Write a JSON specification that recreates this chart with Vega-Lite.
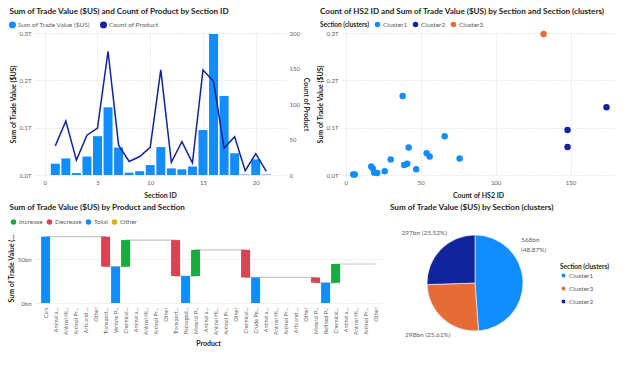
{
  "$schema": "https://vega.github.io/schema/vega-lite/v6.json",
  "background": "white",
  "padding": {"left": 7, "top": 7, "right": 2, "bottom": 2},
  "datasets": {
    "sections": [
      {"section": 1, "value": 0.024, "count": 41, "cluster": "Cluster1"},
      {"section": 2, "value": 0.035, "count": 76, "cluster": "Cluster1"},
      {"section": 3, "value": 0.004, "count": 21, "cluster": "Cluster1"},
      {"section": 4, "value": 0.039, "count": 56, "cluster": "Cluster1"},
      {"section": 5, "value": 0.082, "count": 66, "cluster": "Cluster1"},
      {"section": 6, "value": 0.143, "count": 174, "cluster": "Cluster2"},
      {"section": 7, "value": 0.058, "count": 42, "cluster": "Cluster1"},
      {"section": 8, "value": 0.005, "count": 19, "cluster": "Cluster1"},
      {"section": 9, "value": 0.008, "count": 26, "cluster": "Cluster1"},
      {"section": 10, "value": 0.021, "count": 39, "cluster": "Cluster1"},
      {"section": 11, "value": 0.059, "count": 148, "cluster": "Cluster2"},
      {"section": 12, "value": 0.014, "count": 18, "cluster": "Cluster1"},
      {"section": 13, "value": 0.012, "count": 47, "cluster": "Cluster1"},
      {"section": 14, "value": 0.018, "count": 17, "cluster": "Cluster1"},
      {"section": 15, "value": 0.095, "count": 148, "cluster": "Cluster2"},
      {"section": 16, "value": 0.298, "count": 132, "cluster": "Cluster3"},
      {"section": 17, "value": 0.167, "count": 38, "cluster": "Cluster1"},
      {"section": 18, "value": 0.046, "count": 54, "cluster": "Cluster1"},
      {"section": 19, "value": 0.001, "count": 6, "cluster": "Cluster1"},
      {"section": 20, "value": 0.033, "count": 30, "cluster": "Cluster1"},
      {"section": 21, "value": 0.001, "count": 5, "cluster": "Cluster1"}
    ],
    "waterfall": [
      {"key": "01 Cars", "start": 0, "end": 75.8, "type": "Total"},
      {"key": "02 Animal a...", "start": 75.8, "end": 75.8, "type": "Increase"},
      {"key": "03 Animal Hi...", "start": 75.8, "end": 75.8, "type": "Increase"},
      {"key": "04 Animal Pr...", "start": 75.8, "end": 75.8, "type": "Increase"},
      {"key": "05 Arts and ...", "start": 75.8, "end": 75.8, "type": "Increase"},
      {"key": "06 Other", "start": 75.8, "end": 75.8, "type": "Increase"},
      {"key": "07 Transport...", "start": 75.8, "end": 41.5, "type": "Decrease"},
      {"key": "08 Vehicle P...", "start": 0, "end": 41.5, "type": "Total"},
      {"key": "09 Chemical...", "start": 41.5, "end": 71.9, "type": "Increase"},
      {"key": "10 Animal a...", "start": 71.9, "end": 71.9, "type": "Increase"},
      {"key": "11 Animal Hi...", "start": 71.9, "end": 71.9, "type": "Increase"},
      {"key": "12 Animal Pr...", "start": 71.9, "end": 71.9, "type": "Increase"},
      {"key": "13 Other", "start": 71.9, "end": 71.9, "type": "Increase"},
      {"key": "14 Transport...", "start": 71.9, "end": 30.8, "type": "Decrease"},
      {"key": "15 Packaged...", "start": 0, "end": 30.8, "type": "Total"},
      {"key": "16 Mineral P...", "start": 30.8, "end": 60.8, "type": "Increase"},
      {"key": "17 Animal a...", "start": 60.8, "end": 60.8, "type": "Increase"},
      {"key": "18 Animal Hi...", "start": 60.8, "end": 60.8, "type": "Increase"},
      {"key": "19 Animal Pr...", "start": 60.8, "end": 60.8, "type": "Increase"},
      {"key": "20 Other", "start": 60.8, "end": 60.8, "type": "Increase"},
      {"key": "21 Chemical...", "start": 60.8, "end": 29.2, "type": "Decrease"},
      {"key": "22 Crude Pe...", "start": 0, "end": 29.2, "type": "Total"},
      {"key": "23 Animal a...", "start": 29.2, "end": 29.2, "type": "Increase"},
      {"key": "24 Animal Hi...", "start": 29.2, "end": 29.2, "type": "Increase"},
      {"key": "25 Animal Pr...", "start": 29.2, "end": 29.2, "type": "Increase"},
      {"key": "26 Arts and ...", "start": 29.2, "end": 29.2, "type": "Increase"},
      {"key": "27 Other", "start": 29.2, "end": 29.2, "type": "Increase"},
      {"key": "28 Mineral P...", "start": 29.2, "end": 23.1, "type": "Decrease"},
      {"key": "29 Refined P...", "start": 0, "end": 23.1, "type": "Total"},
      {"key": "30 Chemical...", "start": 23.1, "end": 44.6, "type": "Increase"},
      {"key": "31 Animal a...", "start": 44.6, "end": 44.6, "type": "Increase"},
      {"key": "32 Animal Hi...", "start": 44.6, "end": 44.6, "type": "Increase"},
      {"key": "33 Animal Pr...", "start": 44.6, "end": 44.6, "type": "Increase"},
      {"key": "34 Other", "start": 44.6, "end": 44.6, "type": "Increase"}
    ],
    "clusters": [
      {"cluster": "Cluster1", "value": 568, "rank": 1, "label": "568bn\n(48.87%)"},
      {"cluster": "Cluster3", "value": 298, "rank": 2, "label": "298bn (25.61%)"},
      {"cluster": "Cluster2", "value": 297, "rank": 3, "label": "297bn (25.52%)"}
    ]
  },
  "config": {
    "font": "Lato",
    "view": {"stroke": null},
    "title": {"anchor": "start", "frame": "group", "fontSize": 8.1, "fontWeight": "bold", "color": "#252423", "offset": 5},
    "axis": {"labelColor": "#605E5C", "labelFontSize": 6, "titleColor": "#252423", "titleFontSize": 7, "titleFontWeight": "bold", "gridColor": "#D9D9D9", "gridDash": [1, 2], "domain": false, "ticks": false, "labelPadding": 4, "titlePadding": 3},
    "legend": {"labelFontSize": 6.5, "labelColor": "#605E5C", "symbolType": "circle", "symbolSize": 30, "titleFontSize": 6.5, "titleColor": "#252423", "titleFontWeight": "bold", "labelOffset": 2}
  },
  "spacing": 6,
  "resolve": {"scale": {"color": "independent"}, "legend": {"color": "independent"}},
  "vconcat": [
    {
      "hconcat": [
        {
          "title": {"text": "Sum of Trade Value ($US) and Count of Product by Section ID", "dx": -25.4},
          "width": 250,
          "height": 142,
          "data": {"name": "sections"},
          "layer": [
            {
              "mark": {"type": "bar", "width": 9},
              "encoding": {
                "x": {"field": "section", "type": "quantitative", "scale": {"domain": [-0.45, 22.3], "nice": false, "zero": false}, "axis": {"values": [0, 5, 10, 15, 20], "title": "Section ID", "grid": true, "titlePadding": 6}},
                "y": {"field": "value", "type": "quantitative", "scale": {"domain": [0, 0.3], "nice": false}, "axis": {"values": [0, 0.1, 0.2, 0.3], "labelExpr": "format(datum.value, '.1f') + 'T'", "title": "Sum of Trade Value ($US)"}},
                "color": {"datum": "Sum of Trade Value ($US)", "type": "nominal", "scale": {"domain": ["Sum of Trade Value ($US)", "Count of Product"], "range": ["#118DFF", "#12239E"]}, "legend": {"orient": "none", "legendX": -26, "legendY": -12, "direction": "horizontal", "title": null, "symbolType": "circle", "columnPadding": 6}}
              }
            },
            {
              "mark": {"type": "line", "strokeWidth": 1.5},
              "encoding": {
                "x": {"field": "section", "type": "quantitative"},
                "y": {"field": "count", "type": "quantitative", "scale": {"domain": [0, 200], "nice": false}, "axis": {"orient": "right", "values": [0, 50, 100, 150, 200], "title": "Count of Product", "grid": false}},
                "color": {"datum": "Count of Product", "type": "nominal"}
              }
            }
          ],
          "resolve": {"scale": {"y": "independent"}, "axis": {"y": "independent"}}
        },
        {
          "title": {"text": "Count of HS2 ID and Sum of Trade Value ($US) by Section and Section (clusters)", "dx": -22},
          "width": 272,
          "height": 142,
          "data": {"name": "sections"},
          "mark": {"type": "circle", "size": 42, "opacity": 1},
          "encoding": {
            "x": {"field": "count", "type": "quantitative", "scale": {"domain": [-2.5, 179], "nice": false, "zero": false}, "axis": {"values": [0, 50, 100, 150], "title": "Count of HS2 ID", "grid": true, "titlePadding": 6}},
            "y": {"field": "value", "type": "quantitative", "scale": {"domain": [0, 0.3], "nice": false}, "axis": {"values": [0, 0.1, 0.2, 0.3], "labelExpr": "format(datum.value, '.1f') + 'T'", "title": "Sum of Trade Value ($US)"}},
            "color": {"field": "cluster", "type": "nominal", "scale": {"domain": ["Cluster1", "Cluster2", "Cluster3"], "range": ["#118DFF", "#12239E", "#E66C37"]}, "legend": {"orient": "none", "legendX": -22, "legendY": -12, "direction": "horizontal", "title": "Section (clusters)", "titleOrient": "left", "columnPadding": 4}}
          }
        }
      ],
      "spacing": 57,
      "bounds": "flush",
      "resolve": {"scale": {"color": "independent"}, "legend": {"color": "independent"}}
    },
    {
      "hconcat": [
        {
          "title": {"text": "Sum of Trade Value ($US) by Product and Section", "dx": -25.4, "offset": 6},
          "width": 346,
          "height": 70,
          "data": {"name": "waterfall"},
          "layer": [
            {
              "mark": {"type": "line", "color": "#C8C6C4", "strokeWidth": 1.2, "interpolate": "step-after"},
              "encoding": {
                "x": {"field": "key", "type": "nominal"},
                "y": {"field": "end", "type": "quantitative"}
              }
            },
            {
              "mark": {"type": "bar"},
              "encoding": {
                "x": {"field": "key", "type": "nominal", "scale": {"paddingInner": 0.1, "paddingOuter": 0.35, "align": 0.87}, "axis": {"labelAngle": -90, "labelExpr": "substring(datum.label, 3)", "title": "Product", "labelFontSize": 5.5, "titlePadding": 5}},
                "y": {"field": "start", "type": "quantitative", "scale": {"domain": [0, 80], "nice": false}, "axis": {"values": [0, 50], "labelExpr": "datum.value + 'bn'", "title": "Sum of Trade Value ($US)", "titleLimit": 72, "grid": true}},
                "y2": {"field": "end"},
                "color": {"field": "type", "type": "nominal", "scale": {"domain": ["Increase", "Decrease", "Total", "Other"], "range": ["#1AAB40", "#D64554", "#118DFF", "#D9B300"]}, "legend": {"orient": "none", "legendX": -25, "legendY": -14.5, "direction": "horizontal", "title": null, "columnPadding": 3}}
              }
            }
          ]
        },
        {
          "title": {"text": "Sum of Trade Value ($US) by Section (clusters)", "offset": 17.5, "dx": -35},
          "width": 100,
          "height": 100,
          "data": {"name": "clusters"},
          "transform": [
            {"stack": "value", "groupby": [], "sort": [{"field": "rank", "order": "ascending"}], "as": ["v0", "v1"]}
          ],
          "layer": [
            {
              "mark": {"type": "arc", "outerRadius": 48, "stroke": "white", "strokeWidth": 0.6},
              "encoding": {
                "theta": {"field": "v0", "type": "quantitative", "scale": {"domain": [0, 1163], "range": [0, 6.283185307]}},
                "theta2": {"field": "v1"},
                "color": {"field": "cluster", "type": "nominal", "scale": {"domain": ["Cluster1", "Cluster3", "Cluster2"], "range": ["#118DFF", "#E66C37", "#12239E"]}, "legend": {"orient": "none", "legendX": 135, "legendY": 30.5, "title": "Section (clusters)", "rowPadding": 0, "titlePadding": 2}}
              }
            },
            {
              "transform": [{"filter": "datum.cluster == 'Cluster1'"}],
              "mark": {"type": "text", "radius": 48, "align": "left", "baseline": "top", "dx": 46, "dy": 2, "lineBreak": "\n", "lineHeight": 9.5, "fontSize": 6.5, "color": "#605E5C"},
              "encoding": {"theta": {"field": "v0", "type": "quantitative"}, "text": {"field": "label"}}
            },
            {
              "transform": [{"filter": "datum.cluster == 'Cluster2'"}],
              "mark": {"type": "text", "radius": 48, "align": "right", "baseline": "middle", "dx": -28, "dy": -2, "fontSize": 6.5, "color": "#605E5C"},
              "encoding": {"theta": {"field": "v1", "type": "quantitative"}, "text": {"field": "label"}}
            },
            {
              "transform": [{"filter": "datum.cluster == 'Cluster3'"}],
              "mark": {"type": "text", "radius": 48, "align": "right", "baseline": "middle", "dx": -28, "dy": 4.3, "fontSize": 6.5, "color": "#605E5C"},
              "encoding": {"theta": {"field": "v0", "type": "quantitative"}, "text": {"field": "label"}}
            }
          ]
        }
      ],
      "spacing": 44,
      "bounds": "flush",
      "resolve": {"scale": {"color": "independent"}, "legend": {"color": "independent"}}
    }
  ]
}
